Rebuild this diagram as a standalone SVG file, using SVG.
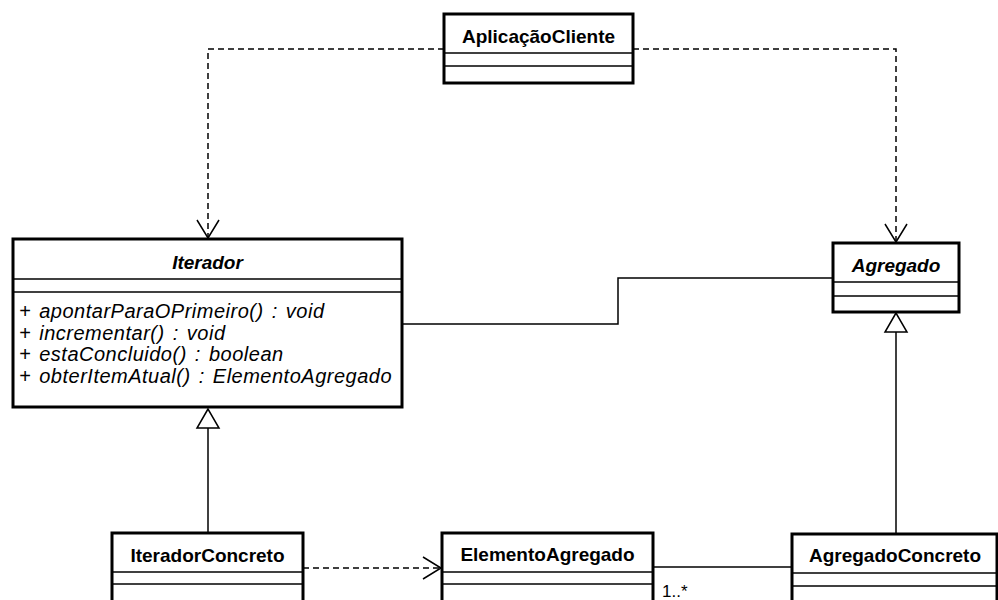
<svg xmlns="http://www.w3.org/2000/svg" width="998" height="600" viewBox="0 0 998 600">
  <style>
    .box { fill: #ffffff; stroke: #000000; stroke-width: 3; }
    .div { stroke: #000000; stroke-width: 1.5; fill: none; }
    .name { font-family: "Liberation Sans", Arial, sans-serif; font-size: 19px; font-weight: bold; fill: #000000; text-anchor: middle; }
    .abstract { font-style: italic; }
    .op { font-family: "Liberation Sans", Arial, sans-serif; font-size: 20px; font-style: italic; letter-spacing: 0.5px; word-spacing: 2px; fill: #000000; }
    .mult { font-family: "Liberation Sans", Arial, sans-serif; font-size: 17px; fill: #000000; }
    .line { stroke: #000000; stroke-width: 1.5; fill: none; }
    .dash { stroke: #000000; stroke-width: 1.5; fill: none; stroke-dasharray: 6 4; }
    .gen { fill: #ffffff; stroke: #000000; stroke-width: 1.5; }
  </style>
  <defs>
    <marker id="open" markerUnits="userSpaceOnUse" markerWidth="24" markerHeight="26" viewBox="-20 -13 24 26" refX="0" refY="0" orient="auto">
      <path d="M -18 -11 L 0 0 L -18 11" fill="none" stroke="#000000" stroke-width="1.5"/>
    </marker>
  </defs>
  <rect width="998" height="600" fill="#ffffff"/>

  <g id="connectors">
    <!-- client dependencies -->
    <path class="dash" d="M 444 49 L 208 49 L 208 238" marker-end="url(#open)"/>
    <path class="dash" d="M 633 49 L 896 49 L 896 242" marker-end="url(#open)"/>
    <!-- Iterador - Agregado association -->
    <path class="line" d="M 402 324 L 618 324 L 618 278 L 833 278"/>
    <!-- generalizations -->
    <path class="line" d="M 208 428 L 208 533"/>
    <polygon class="gen" points="208,409 197,428 219,428"/>
    <path class="line" d="M 896 332 L 896 534"/>
    <polygon class="gen" points="896,313 885,332 907,332"/>
    <!-- IteradorConcreto uses ElementoAgregado -->
    <path class="dash" d="M 303 568 L 441 568" marker-end="url(#open)"/>
    <!-- ElementoAgregado - AgregadoConcreto association -->
    <path class="line" d="M 653 567 L 792 567"/>
    <text class="mult" x="662" y="597">1..*</text>
  </g>

  <g id="AplicacaoCliente">
    <rect class="box" x="444" y="14" width="189" height="69"/>
    <line class="div" x1="444" y1="53" x2="633" y2="53"/>
    <line class="div" x1="444" y1="66" x2="633" y2="66"/>
    <text class="name" x="538.5" y="43">AplicaçãoCliente</text>
  </g>

  <g id="Iterador">
    <rect class="box" x="13" y="239" width="389" height="168"/>
    <line class="div" x1="13" y1="279" x2="402" y2="279"/>
    <line class="div" x1="13" y1="292" x2="402" y2="292"/>
    <text class="name abstract" x="207.5" y="269">Iterador</text>
    <text class="op" x="19" y="318">+ apontarParaOPrimeiro() : void</text>
    <text class="op" x="19" y="340">+ incrementar() : void</text>
    <text class="op" x="19" y="361">+ estaConcluido() : boolean</text>
    <text class="op" x="19" y="383">+ obterItemAtual() : ElementoAgregado</text>
  </g>

  <g id="Agregado">
    <rect class="box" x="833" y="243" width="126" height="69"/>
    <line class="div" x1="833" y1="282" x2="959" y2="282"/>
    <line class="div" x1="833" y1="296" x2="959" y2="296"/>
    <text class="name abstract" x="896" y="272">Agregado</text>
  </g>

  <g id="IteradorConcreto">
    <rect class="box" x="112" y="533" width="191" height="80"/>
    <line class="div" x1="112" y1="572" x2="303" y2="572"/>
    <line class="div" x1="112" y1="584" x2="303" y2="584"/>
    <text class="name" x="207.5" y="562">IteradorConcreto</text>
  </g>

  <g id="ElementoAgregado">
    <rect class="box" x="442" y="533" width="211" height="80"/>
    <line class="div" x1="442" y1="572" x2="653" y2="572"/>
    <line class="div" x1="442" y1="584" x2="653" y2="584"/>
    <text class="name" x="547.5" y="561">ElementoAgregado</text>
  </g>

  <g id="AgregadoConcreto">
    <rect class="box" x="792" y="534" width="205" height="80"/>
    <line class="div" x1="792" y1="573" x2="997" y2="573"/>
    <line class="div" x1="792" y1="586" x2="997" y2="586"/>
    <text class="name" x="895" y="562">AgregadoConcreto</text>
  </g>
</svg>
